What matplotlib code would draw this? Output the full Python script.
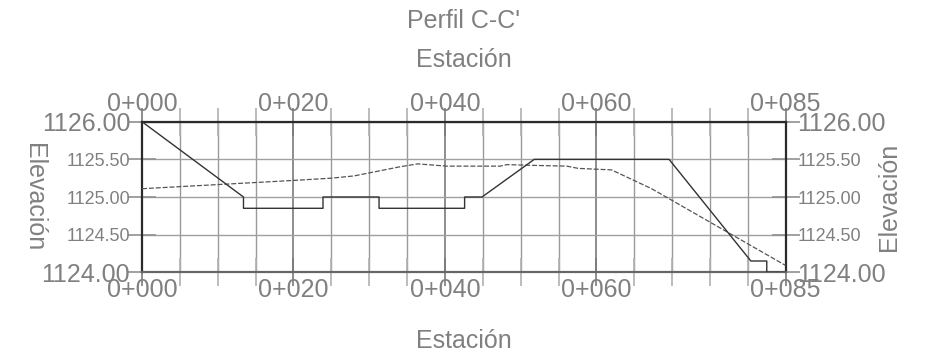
import matplotlib
matplotlib.use("Agg")
import matplotlib.pyplot as plt
from matplotlib.ticker import FixedLocator, FuncFormatter

plt.rcParams['font.family'] = ['Liberation Sans', 'DejaVu Sans']

# datos del perfil
sta_design = [0, 13.4, 13.4, 23.9, 23.9, 31.3, 31.3, 42.6, 42.6, 44.9,
              51.8, 69.6, 80.4, 82.5, 82.5, 85]
elev_design = [1126.0, 1125.0, 1124.85, 1124.85, 1125.0, 1125.0, 1124.85,
               1124.85, 1125.0, 1125.0, 1125.5, 1125.5, 1124.15, 1124.15,
               1124.0, 1124.0]

sta_ground = [0, 20, 25, 28, 30, 34, 36.4, 40.2, 47.3, 48.2, 51.6, 56.1,
              57.6, 62.0, 67.3, 85]
elev_ground = [1125.11, 1125.22, 1125.25, 1125.28, 1125.32, 1125.40,
               1125.44, 1125.41, 1125.41, 1125.43, 1125.42, 1125.41,
               1125.38, 1125.36, 1125.11, 1124.09]

x_major = [0, 20, 40, 60, 85]
x_minor = [5, 10, 15, 25, 30, 35, 45, 50, 55, 65, 70, 75, 80]
y_ticks = [1124.0, 1124.5, 1125.0, 1125.5, 1126.0]

gray = '#808080'

fig = plt.figure(figsize=(9.31, 3.6), dpi=100)
ax = fig.add_axes([142 / 931, 1 - 272.3 / 360, 643.7 / 931, 150.6 / 360])

ax.plot(sta_ground, elev_ground, color='#555555', lw=0.9,
        dashes=(4, 1.5), zorder=3)
ax.plot(sta_design, elev_design, color='#333333', lw=1.0, zorder=4)

ax.set_xlim(0, 85)
ax.set_ylim(1124, 1126)

ax.xaxis.set_major_locator(FixedLocator(x_major))
ax.xaxis.set_minor_locator(FixedLocator(x_minor))
ax.xaxis.set_major_formatter(FuncFormatter(lambda v, p: "0+%03d" % round(v)))
ax.yaxis.set_major_locator(FixedLocator(y_ticks))
ax.yaxis.set_major_formatter(FuncFormatter(lambda v, p: "%.2f" % v))

ax.grid(which='major', axis='x', color='#7a7a7a', lw=1.2)
ax.grid(which='minor', axis='x', color='#999999', lw=1.0)
ax.grid(which='major', axis='y', color='#a0a0a0', lw=1.0)

ax.tick_params(axis='x', which='both', direction='inout', top=True,
               labeltop=True, labelbottom=True, labelcolor=gray, pad=-6)
ax.tick_params(axis='x', which='major', length=20, width=1.2, color='#7a7a7a',
               labelsize=18)
ax.tick_params(axis='x', which='minor', length=20, width=1.2, color='#b0b0b0')
ax.tick_params(axis='y', which='major', direction='inout', right=True,
               labelright=True, length=20, width=1.2, color='#909090',
               labelcolor=gray, labelsize=13, pad=-1.5)

# etiquetas extremas más grandes
fig.canvas.draw()
for i, t in enumerate(ax.yaxis.get_major_ticks()):
    if i in (0, len(y_ticks) - 1):
        t.label1.set_fontsize(18)
        t.label2.set_fontsize(18)

for side in ('top', 'left', 'right'):
    ax.spines[side].set_color('#2a2a2a')
    ax.spines[side].set_linewidth(1.6)
ax.spines['bottom'].set_color('#666666')
ax.spines['bottom'].set_linewidth(1.6)

cx = (142 + 785.7) / 2 / 931
fig.text(cx, 1 - 28.3 / 360, "Perfil C-C'", ha='center', va='baseline',
         fontsize=18, color=gray)
fig.text(cx, 1 - 66.7 / 360, "Estación", ha='center', va='baseline',
         fontsize=18, color=gray)
fig.text(cx, 1 - 348 / 360, "Estación", ha='center', va='baseline',
         fontsize=18, color=gray)
fig.text(34 / 931, 1 - 197 / 360, "Elevación", ha='center', va='center',
         rotation=270, fontsize=18, color=gray)
fig.text(889 / 931, 1 - 197 / 360, "Elevación", ha='center', va='center',
         rotation=90, fontsize=18, color=gray)

fig.savefig("out.png", dpi=100)
